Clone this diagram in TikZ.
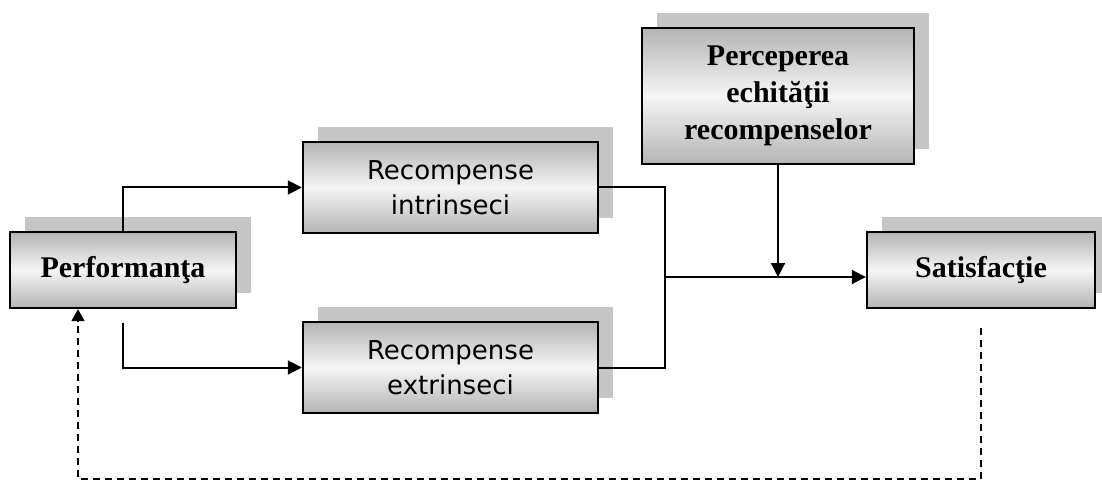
\documentclass[tikz,border=0pt]{standalone}
\usepackage{fontspec}
\setmainfont{Liberation Serif}
\newfontfamily\boxsans{DejaVu Sans}
\usetikzlibrary{arrows.meta,shadows,calc}
\definecolor{shadowgray}{HTML}{C6C6C6}
\definecolor{edgegray}{HTML}{B4B4B4}
\definecolor{midgray}{HTML}{F5F5F5}
\tikzset{
  box/.style={draw=black, line width=2.4pt, inner sep=0pt, align=center,
    top color=edgegray, bottom color=edgegray, middle color=midgray,
    drop shadow={shadow xshift=15pt, shadow yshift=15pt, fill=shadowgray, opacity=1}},
  boldbox/.style={box, font=\fontsize{30}{37}\selectfont\bfseries},
  sansbox/.style={box, font=\boxsans\fontsize{26}{35}\selectfont},
  link/.style={line width=2pt, -{Triangle[length=14pt,width=14pt]}},
  plainlink/.style={line width=2pt},
  backlink/.style={line width=1.8pt, dash pattern=on 7pt off 5pt,
    -{Triangle[length=12pt,width=13pt]}}
}
\begin{document}
\begin{tikzpicture}[x=1pt,y=-1pt]
  \useasboundingbox (0,0) rectangle (1102,481);
  \clip (0,0) rectangle (1102,481);

  % boxes
  \node[boldbox, minimum width=226pt, minimum height=76pt] (perf) at (123,270) {Performanţa};
  \node[sansbox, minimum width=295pt, minimum height=91pt] (intr) at (450.5,187.5) {Recompense\\intrinseci};
  \node[sansbox, minimum width=295pt, minimum height=91pt] (extr) at (450.5,367.5) {Recompense\\extrinseci};
  \node[boldbox, minimum width=272pt, minimum height=136pt] (perc) at (778,96) {Perceperea\\echităţii\\recompenselor};
  \node[boldbox, minimum width=228pt, minimum height=76pt] (sat) at (981,270) {Satisfacţie};

  % junction points
  \coordinate (jn) at (665,277);
  \coordinate (pb) at (123,323);
  \coordinate (ds) at (981,328);
  \coordinate (dl) at (78,479);

  % performance splits into the two kinds of rewards
  \draw[link] (perf.north) |- (intr.west);
  \draw[link] (pb) |- (extr.west);

  % rewards merge and lead to satisfaction
  \draw[plainlink] (intr.east) -| (jn) |- (extr.east);
  \draw[link] (jn) -- (jn -| sat.west);
  \draw[link] (perc.south) -- (perc.south |- jn);

  % feedback from satisfaction to performance
  \draw[backlink] (ds) |- (dl) -- (dl |- perf.south);
\end{tikzpicture}
\end{document}
